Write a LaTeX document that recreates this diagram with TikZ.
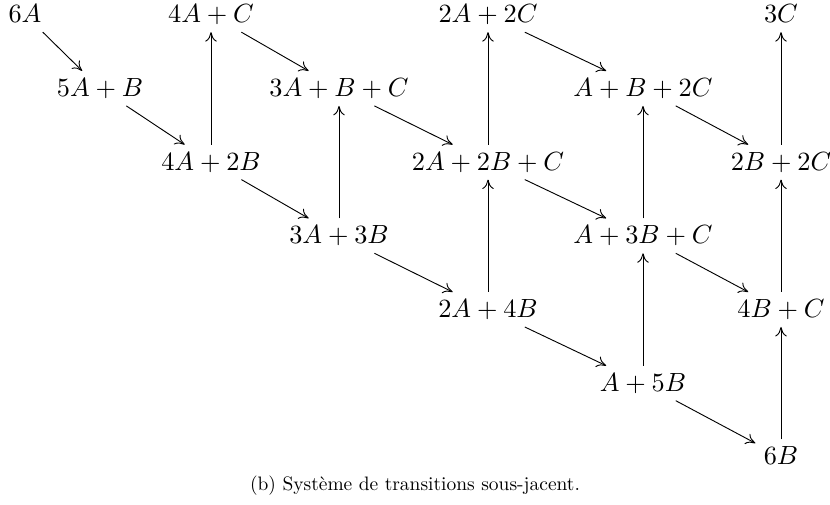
\documentclass[tikz,border=0pt]{standalone}
\usetikzlibrary{arrows.meta}
\begin{document}
\begin{tikzpicture}[x=0.3802pt,y=-0.3802pt,
  st/.style={anchor=base, inner xsep=3pt, inner ysep=2.6pt, text height=6.9pt, text depth=0.8pt},
  tr/.style={-{To[length=3.6pt,width=4.4pt]}, line width=0.35pt}]
\useasboundingbox (0,0) rectangle (830,504);
% rows: 22.7 96.4 170.1 243.8 317.5 391.2 464.9
% cols: 25 100 211 339 488 643 781
\node[st] (a6) at (25,22.7) {$6A$};
\node[st] (a5b) at (100,96.4) {$5A+B$};
\node[st] (a4c) at (211,22.7) {$4A+C$};
\node[st] (a4b2) at (211,170.1) {$4A+2B$};
\node[st] (a3bc) at (339,96.4) {$3A+B+C$};
\node[st] (a3b3) at (339,243.8) {$3A+3B$};
\node[st] (a2c2) at (488,22.7) {$2A+2C$};
\node[st] (a2b2c) at (488,170.1) {$2A+2B+C$};
\node[st] (a2b4) at (488,317.5) {$2A+4B$};
\node[st] (ab2c) at (643,96.4) {$A+B+2C$};
\node[st] (ab3c) at (643,243.8) {$A+3B+C$};
\node[st] (ab5) at (643,391.2) {$A+5B$};
\node[st] (c3) at (781,22.7) {$3C$};
\node[st] (b2c2) at (781,170.1) {$2B+2C$};
\node[st] (b4c) at (781,317.5) {$4B+C$};
\node[st] (b6) at (781,464.9) {$6B$};
\node[anchor=base, scale=0.74] (cap) at (415,490) {(b) Système de transitions sous-jacent.};
% diagonal transitions
\draw[tr] (a6) -- (a5b);
\draw[tr] (a5b) -- (a4b2);
\draw[tr] (a4b2) -- (a3b3);
\draw[tr] (a3b3) -- (a2b4);
\draw[tr] (a2b4) -- (ab5);
\draw[tr] (ab5) -- (b6);
\draw[tr] (a4c) -- (a3bc);
\draw[tr] (a3bc) -- (a2b2c);
\draw[tr] (a2b2c) -- (ab3c);
\draw[tr] (ab3c) -- (b4c);
\draw[tr] (a2c2) -- (ab2c);
\draw[tr] (ab2c) -- (b2c2);
% vertical transitions
\draw[tr] (a4b2) -- (a4c);
\draw[tr] (a3b3) -- (a3bc);
\draw[tr] (a2b4) -- (a2b2c);
\draw[tr] (a2b2c) -- (a2c2);
\draw[tr] (ab5) -- (ab3c);
\draw[tr] (ab3c) -- (ab2c);
\draw[tr] (b6) -- (b4c);
\draw[tr] (b4c) -- (b2c2);
\draw[tr] (b2c2) -- (c3);
\end{tikzpicture}
\end{document}
